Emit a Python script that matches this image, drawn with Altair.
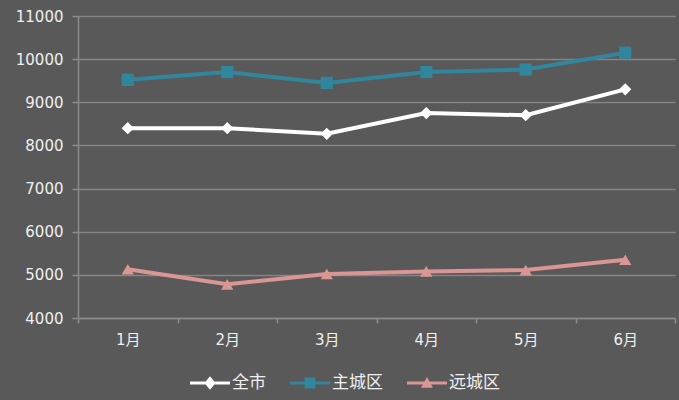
import altair as alt
import pandas as pd

months = ["1月", "2月", "3月", "4月", "5月", "6月"]
series_names = ["全市", "主城区", "远城区"]
city_all = [8400, 8400, 8270, 8750, 8700, 9300]
main_city = [9520, 9700, 9450, 9700, 9760, 10150]
outer_city = [5130, 4780, 5020, 5080, 5110, 5350]
y_ticks = [4000, 5000, 6000, 7000, 8000, 9000, 10000, 11000]

colors = ["#FFFFFF", "#31859C", "#D99694"]
marker_shapes = ["diamond", "square", "triangle-up"]
# legend glyphs: a short line segment with the series marker in the middle
legend_shapes = [
    "M-1,-0.08H1V0.08H-1Z M0,-0.34L0.28,0L0,0.34L-0.28,0Z",
    "M-1,-0.08H1V0.08H-1Z M-0.27,-0.27H0.27V0.27H-0.27Z",
    "M-1,-0.08H1V0.08H-1Z M0,-0.3L0.3,0.24H-0.3Z",
]

rows = []
for name, vals in zip(series_names, [city_all, main_city, outer_city]):
    for m, v in zip(months, vals):
        rows.append({"month": m, "series": name, "value": v})
df = pd.DataFrame(rows)

FONT = "DejaVu Sans, Noto Sans CJK SC"

x_enc = alt.X(
    "month:N",
    sort=months,
    title=None,
    scale=alt.Scale(paddingInner=0, paddingOuter=0),
    axis=alt.Axis(
        labelAngle=0,
        grid=False,
        tickBand="extent",
        tickSize=5,
        labelPadding=9,
        domainColor="#8C8C8C",
        tickColor="#8C8C8C",
    ),
)
y_enc = alt.Y(
    "value:Q",
    title=None,
    scale=alt.Scale(domain=[4000, 11000], nice=False, zero=False),
    axis=alt.Axis(
        values=y_ticks,
        format="d",
        tickSize=6,
        labelPadding=9,
        gridColor="#858585",
        gridWidth=1.5,
        domainColor="#8C8C8C",
        tickColor="#8C8C8C",
    ),
)
color_scale = alt.Scale(domain=series_names, range=colors)

base = alt.Chart(df)

lines = base.mark_line(strokeWidth=4).encode(
    x=x_enc,
    y=y_enc,
    color=alt.Color("series:N", scale=color_scale, legend=None),
    detail="series:N",
)

points = base.mark_point(filled=True, opacity=1, size=150).encode(
    x=x_enc,
    y=y_enc,
    color=alt.Color("series:N", scale=color_scale, legend=None),
    shape=alt.Shape(
        "series:N",
        scale=alt.Scale(domain=series_names, range=marker_shapes),
        legend=None,
    ),
)

legend_layer = (
    base.transform_filter("false")
    .mark_point(filled=True, opacity=1, size=1600)
    .encode(
        x=x_enc,
        y=y_enc,
        color=alt.Color(
            "series:N",
            scale=color_scale,
            legend=alt.Legend(
                title=None,
                orient="none",
                direction="horizontal",
                legendX=112,
                legendY=347,
                symbolSize=1600,
                symbolStrokeWidth=0,
                labelFontSize=17,
                labelColor="#F0F0F0",
                labelFont=FONT,
                labelOffset=2,
                columnPadding=24,
            ),
        ),
        shape=alt.Shape(
            "series:N",
            scale=alt.Scale(domain=series_names, range=legend_shapes),
            legend=alt.Legend(title=None),
        ),
    )
)

chart = (
    alt.layer(lines, points, legend_layer)
    .resolve_scale(color="independent", shape="independent")
    .properties(
        width=597,
        height=302,
        autosize=alt.AutoSizeParams(type="none"),
        padding={"left": 78, "top": 16, "right": 4, "bottom": 82},
        background="#595959",
    )
    .configure_view(stroke=None)
    .configure_axis(
        labelFont=FONT,
        labelFontSize=15,
        labelColor="#F0F0F0",
        domainWidth=1.5,
        tickWidth=1.5,
    )
)

chart.save("out.html", embed_options={"renderer": "svg", "actions": False})
